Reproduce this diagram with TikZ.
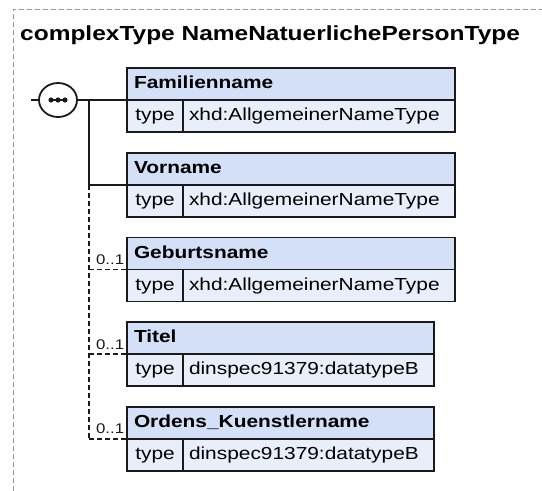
\documentclass[tikz,border=0pt]{standalone}
\usepackage{fontspec}
\setmainfont{Liberation Sans}[FakeStretch=1.2]
\usepackage{xcolor}
\usepackage{tikz}
\usetikzlibrary{positioning, shapes.geometric}
\definecolor{xsdHead}{HTML}{D3E0F7}
\definecolor{xsdType}{HTML}{E8EFFA}
\definecolor{xsdLine}{HTML}{1A1A1A}
\definecolor{xsdFrame}{HTML}{9A9A9A}

\begin{document}
\begin{tikzpicture}[x=1pt, y=-1pt,
    font=\fontsize{17.4}{20}\selectfont,
    cell/.style={draw=xsdLine, line width=1.8pt, outer sep=0pt, minimum height=32pt,
      text height=12.5pt, text depth=3.5pt},
    hdr/.style={cell, fill=xsdHead, anchor=north west, inner xsep=7pt, align=left,
      font=\fontsize{17.4}{20}\selectfont\bfseries},
    tylbl/.style={cell, fill=xsdType, minimum width=56pt, inner xsep=4pt},
    tyval/.style={cell, fill=xsdType, inner xsep=6pt, align=left},
    conn/.style={xsdLine, line width=1.8pt},
    opt/.style={conn, dash pattern=on 5pt off 3pt},
    mult/.style={anchor=south east, inner sep=0pt, xshift=-2pt, yshift=4pt,
      font=\fontsize{14}{16}\selectfont},
    frame/.style={xsdFrame, line width=1pt, dash pattern=on 5pt off 3pt}]
    \useasboundingbox (0,0) rectangle (542,491);
    % --- outer frame + title ---
    \draw[frame] (13,491) |- (542,9);
    \node[anchor=base west, inner sep=0pt, font=\fontsize{20.4}{24}\selectfont\bfseries]
      (title) at (20,40) {complexType NameNatuerlichePersonType};
    % --- sequence compositor ---
    \node[inner sep=0pt, outer sep=0pt, minimum width=38pt, minimum height=34pt]
      (seq) at (58,100) {};
    \draw[conn] (seq.center) ellipse [x radius=19pt, y radius=17pt];
    \draw[conn] ([xshift=-9pt]seq.center) -- ([xshift=9pt]seq.center);
    \foreach \dx in {-7,0,7} \fill[xsdLine] ([xshift=\dx pt]seq.center) circle (2.6pt);
    % --- elements (name row + type row) ---
    \foreach \i/\nm/\ty/\w in {1/Familienname/xhd:AllgemeinerNameType/328,
        2/Vorname/xhd:AllgemeinerNameType/328,
        3/Geburtsname/xhd:AllgemeinerNameType/328,
        4/Titel/dinspec91379:datatypeB/307,
        5/Ordens\_Kuenstlername/dinspec91379:datatypeB/307} {
      \pgfmathsetmacro\ytop{68+84.75*(\i-1)}
      \pgfmathsetmacro\hw{\w-14}
      \pgfmathsetmacro\vw{\w-56}
      \pgfmathsetmacro\vtw{\w-56-12}
      \node[hdr, minimum width=\w pt, text width=\hw pt] (h\i) at (127,\ytop) {\nm};
      \node[tylbl, below right=0pt and 0pt of h\i.south west] (t\i) {type};
      \node[tyval, minimum width=\vw pt, text width=\vtw pt, right=0pt of t\i] (v\i) {\ty};
    }
    % --- connectors ---
    \coordinate (in) at (31,100);
    \coordinate (br) at (89,100);
    \draw[conn] (in) -- (seq.west);
    \draw[conn] (seq.east) -- (h1.south west);
    \draw[conn] (br) |- (h2.south west);
    \draw[opt] (h2.south west -| br) -- (h5.south west -| br);
    \foreach \i in {3,4,5}
      \draw[opt] (h\i.south west -| br) -- (h\i.south west) node[mult] {0..1};
\end{tikzpicture}
\end{document}
